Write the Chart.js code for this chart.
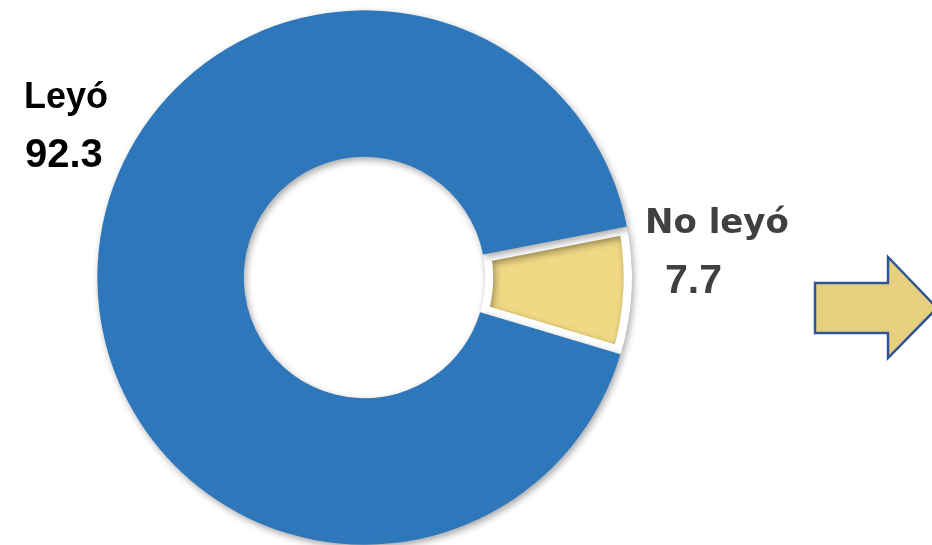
<!DOCTYPE html>
<html>
<head>
<meta charset="utf-8">
<script src="https://cdn.jsdelivr.net/npm/chart.js@4/dist/chart.umd.min.js"></script>
<style>
  html, body { margin: 0; padding: 0; background: #fff; }
  #wrap { position: relative; width: 932px; height: 545px; }
</style>
</head>
<body>
<div id="wrap"><canvas id="readChart"></canvas></div>
<script>
// yellow first so the blue ring draws over its edges
const labels = ['No leyó', 'Leyó'];
const values = [7.7, 92.3];
const colors = ['#F0D884', '#2E77BB'];

// labels beside the ring + the block arrow on the right
const decorations = {
  id: 'decorations',
  beforeDatasetsDraw(chart) {
    const ctx = chart.ctx;
    ctx.save();
    ctx.shadowColor = 'rgba(0,0,0,0.35)';
    ctx.shadowBlur = 7;
    ctx.shadowOffsetX = 2;
    ctx.shadowOffsetY = 3;
  },
  afterDatasetsDraw(chart) {
    const ctx = chart.ctx;
    ctx.restore();
    ctx.save();
    ctx.textBaseline = 'alphabetic';
    ctx.fillStyle = '#000';
    ctx.font = 'bold 36px "Liberation Sans", Arial, sans-serif';
    ctx.fillText(labels[1], 24, 108);
    ctx.font = 'bold 40px "Liberation Sans", Arial, sans-serif';
    ctx.fillText(String(values[1]), 25, 167);
    ctx.fillStyle = '#404040';
    ctx.font = 'bold 34px "DejaVu Sans", sans-serif';
    ctx.fillText(labels[0], 645, 233);
    ctx.font = 'bold 41px "Liberation Sans", Arial, sans-serif';
    ctx.fillText(String(values[0]), 665, 293);

    // arrow
    ctx.beginPath();
    ctx.moveTo(815, 283);
    ctx.lineTo(888, 283);
    ctx.lineTo(888, 257);
    ctx.lineTo(937, 308);
    ctx.lineTo(888, 358);
    ctx.lineTo(888, 333);
    ctx.lineTo(815, 333);
    ctx.closePath();
    ctx.fillStyle = '#E6CF7E';
    ctx.fill();
    ctx.lineWidth = 2.5;
    ctx.strokeStyle = '#2F5597';
    ctx.stroke();
    ctx.restore();
  }
};

new Chart(document.getElementById('readChart'), {
  type: 'doughnut',
  data: {
    labels,
    datasets: [{
      data: values,
      backgroundColor: colors,
      borderColor: ['#ffffff', '#2E77BB'],
      borderWidth: [8, 0],
      borderAlign: 'inner',
      hoverOffset: 0,
    }]
  },
  options: {
    responsive: true,
    maintainAspectRatio: false,
    animation: false,
    rotation: 79,
    cutout: '45%',
    layout: {
      padding: { left: 97, right: 300, top: 10, bottom: 0 }
    },
    plugins: {
      legend: { display: false },
      tooltip: { enabled: false },
    },
  },
  plugins: [decorations]
});
</script>
</body>
</html>
